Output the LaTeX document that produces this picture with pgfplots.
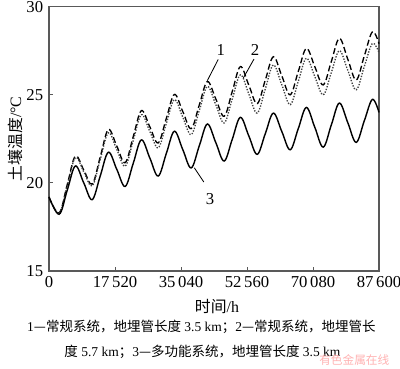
\documentclass[border=0pt]{standalone}
\usepackage{fontspec}
\setmainfont{Liberation Serif}
\newfontfamily\cjk{Noto Sans CJK SC}
\usepackage{pgfplots}
\pgfplotsset{compat=1.18}

\begin{document}
\begin{tikzpicture}
\begin{axis}[
  at={(0,0)}, anchor=south west,
  scale only axis,
  width=198pt, height=158.6pt,
  xmin=0, xmax=87600, ymin=15, ymax=30,
  xtick={0,17520,35040,52560,70080,87600},
  xticklabels={0,17\,520,35\,040,52\,560,70\,080,87\,600},
  ytick={15,20,25,30},
  tick align=inside,
  xtick pos=bottom, ytick pos=left,
  axis line style={black!65, line width=0.7pt},
  tick style={black!65, line width=0.6pt},
  major tick length=2.6pt,
  scaled x ticks=false,
  /pgf/number format/assume math mode=true,
  tick label style={font=\fontsize{10}{12}\selectfont},
  xlabel={\cjk 时间\rmfamily /h},
  xlabel style={at={(axis description cs:0.509,-0.135)}, anchor=center, font=\fontsize{9.5}{11}\selectfont},
  ylabel={\cjk 土壤温度\rmfamily /°C},
  ylabel style={at={(axis description cs:-0.103,0.5)}, anchor=center, rotate=0, font=\fontsize{9.5}{11}\selectfont},
  clip=false,
]
% curve 1: conventional, 3.5 km (dashed)
\addplot[black, line width=0.8pt, dash pattern=on 3.6pt off 1.8pt, smooth, tension=0.6] coordinates {
(0,19.2) (2700,18.3) (4850,19.91) (7000,21.52) (9230,20.73)
(11460,19.93) (13610,21.48) (15760,23.03) (17990,22.09)
(20220,21.15) (22370,22.63) (24520,24.1) (26750,23.19)
(28980,22.27) (31130,23.65) (33280,25.02) (35510,24.05)
(37740,23.08) (39890,24.42) (42040,25.75) (44270,24.77)
(46500,23.78) (48650,25.19) (50800,26.6) (53030,25.55)
(55260,24.5) (57410,25.83) (59560,27.16) (61790,26.08)
(64020,25.0) (66170,26.32) (68320,27.63) (70550,26.6)
(72780,25.56) (74930,26.88) (77080,28.2) (79310,27.02)
(81540,25.84) (83690,27.2) (85840,28.57) (87600,27.9)
};
% curve 2: conventional, 5.7 km (dotted)
\addplot[black!75, line width=0.8pt, dash pattern=on 0.8pt off 0.9pt, smooth, tension=0.6] coordinates {
(0,19.2) (2700,18.28) (4850,19.86) (7000,21.43) (9230,20.63)
(11460,19.83) (13610,21.34) (15760,22.84) (17990,21.9)
(20220,20.95) (22370,22.41) (24520,23.87) (26750,22.93)
(28980,21.99) (31130,23.36) (33280,24.72) (35510,23.73)
(37740,22.74) (39890,24.1) (42040,25.47) (44270,24.44)
(46500,23.4) (48650,24.77) (50800,26.13) (53030,25.05)
(55260,23.96) (57410,25.33) (59560,26.69) (61790,25.57)
(64020,24.44) (66170,25.76) (68320,27.07) (70550,26.04)
(72780,25.0) (74930,26.25) (77080,27.5) (79310,26.39)
(81540,25.28) (83690,26.6) (85840,27.91) (87600,27.4)
};
% curve 3: multifunction, 3.5 km (solid)
\addplot[black, line width=0.85pt, smooth, tension=0.6] coordinates {
(0,19.2) (2700,18.22) (4850,19.59) (7000,20.96) (9230,20.0)
(11460,19.05) (13610,20.4) (15760,21.74) (17990,20.77)
(20220,19.8) (22370,21.12) (24520,22.44) (26750,21.42)
(28980,20.39) (31130,21.66) (33280,22.93) (35510,21.89)
(37740,20.85) (39890,22.1) (42040,23.34) (44270,22.29)
(46500,21.24) (48650,22.48) (50800,23.72) (53030,22.67)
(55260,21.62) (57410,22.79) (59560,23.96) (61790,22.92)
(64020,21.88) (66170,23.08) (68320,24.28) (70550,23.16)
(72780,22.03) (74930,23.28) (77080,24.53) (79310,23.42)
(81540,22.3) (83690,23.52) (85840,24.74) (87600,24.0)
};
% annotations
\draw[black, line width=0.5pt] (axis cs:44900,27.0) -- (axis cs:42020,25.8);
\node[font=\fontsize{10}{12}\selectfont] at (axis cs:45580,27.55) {1};
\draw[black, line width=0.5pt] (axis cs:54420,27.03) -- (axis cs:51580,25.95);
\node[font=\fontsize{10}{12}\selectfont] at (axis cs:54680,27.55) {2};
\draw[black, line width=0.5pt] (axis cs:38570,20.86) -- (axis cs:41100,20.05);
\node[font=\fontsize{10}{12}\selectfont] at (axis cs:42740,19.1) {3};
% caption
\node[anchor=center, font=\fontsize{8.1}{10}\selectfont] at (axis description cs:0.462,-0.212)
  {1\cjk —常规系统，地埋管长度\rmfamily\ 3.5 km\cjk ；\rmfamily 2\cjk —常规系统，地埋管长};
\node[anchor=center, font=\fontsize{8.1}{10}\selectfont] at (axis description cs:0.465,-0.307)
  {\cjk 度\rmfamily\ 5.7 km\cjk ；\rmfamily 3\cjk —多功能系统，地埋管长度\rmfamily\ 3.5 km};
\node[anchor=center, text=red!30, font=\fontsize{7}{8}\selectfont] at (axis description cs:0.925,-0.335)
  {\cjk 有色金属在线};
\end{axis}
\pgfresetboundingbox
\path[use as bounding box] (-29.4pt,-58.2pt) rectangle (210.6pt,162.6pt);
\end{tikzpicture}
\end{document}
